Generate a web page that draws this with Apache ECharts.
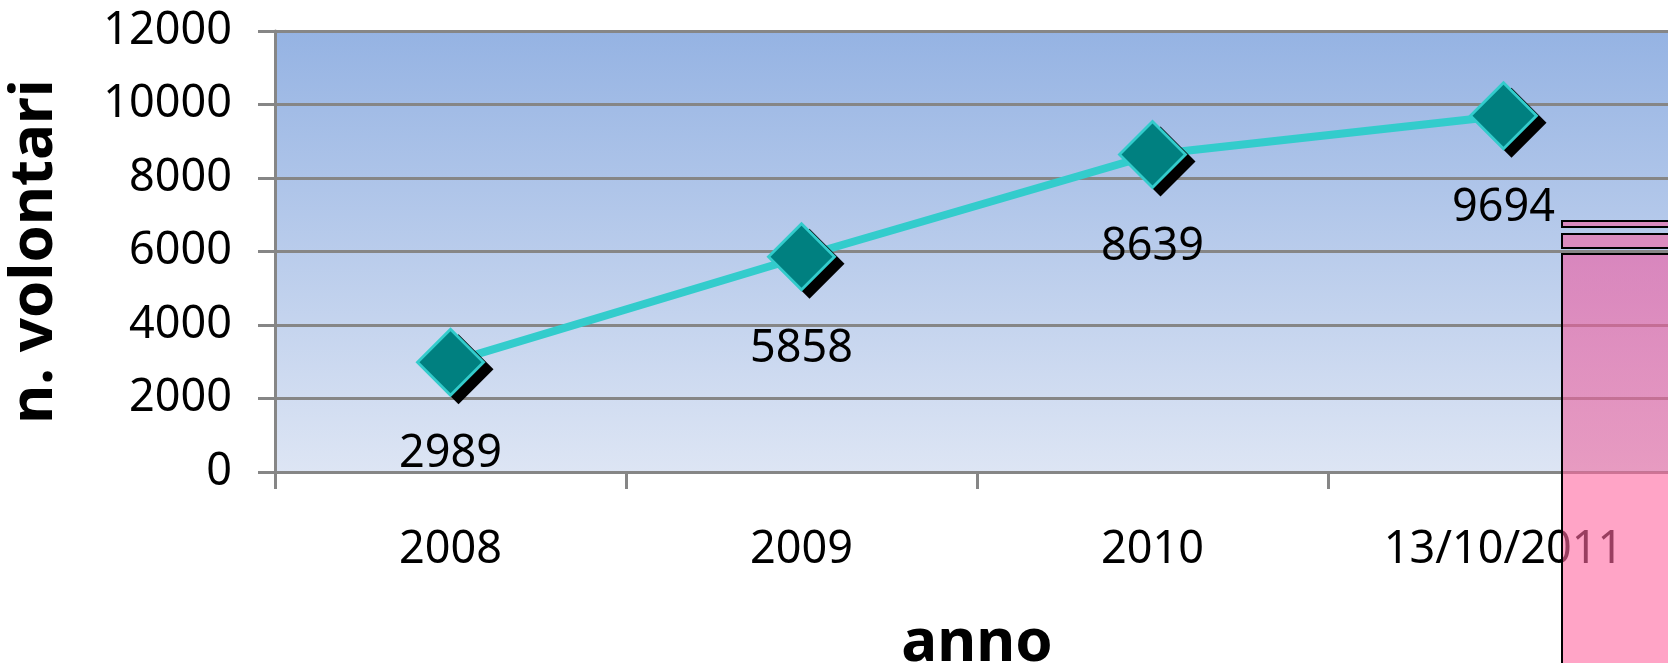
<!DOCTYPE html>
<html>
<head>
<meta charset="utf-8">
<title>volontari</title>
<script src="https://cdn.jsdelivr.net/npm/echarts@6/dist/echarts.min.js"></script>
<style>
    html, body { margin: 0; padding: 0; background: #ffffff; }
    #id-div-chart { width: 1668px; height: 663px; }
</style>
</head>
<body>
<div id="id-div-chart"></div>
<script>
var anni = ['2008', '2009', '2010', '13/10/2011']
var volontari = [2989, 5858, 8639, 9694]
var yTicks = [0, 2000, 4000, 6000, 8000, 10000, 12000]

var font = '"Noto Sans", "DejaVu Sans", sans-serif'
var grigio = '#868686'

var e = (selector) => document.querySelector(selector)

// il rettangolo rosa sul bordo destro (non fa parte dei dati), sopra al grafico e semitrasparente
var rosa = function() {
    var x = 1562
    var w = 200
    var bordo = '#000000'
    var alto = new echarts.graphic.LinearGradient(0, 0, 0, 1, [
        { offset: 0, color: 'rgba(237, 88, 159, 0.6)' },
        { offset: 1, color: 'rgba(238, 105, 159, 0.6)' },
    ])
    return [
        { type: 'rect', z: 10, shape: { x: x, y: 221, width: w, height: 6 },
          style: { fill: 'rgba(243, 97, 160, 0.6)', stroke: bordo, lineWidth: 2 } },
        { type: 'rect', z: 10, shape: { x: x, y: 234, width: w, height: 14 },
          style: { fill: 'rgba(243, 97, 160, 0.6)', stroke: bordo, lineWidth: 2 } },
        { type: 'rect', z: 10, shape: { x: x, y: 254, width: w, height: 218 },
          style: { fill: alto, stroke: null } },
        { type: 'rect', z: 10, shape: { x: x, y: 472, width: w, height: 220 },
          style: { fill: 'rgba(255, 103, 160, 0.6)', stroke: null } },
        { type: 'rect', z: 10, shape: { x: x, y: 254, width: w, height: 440 },
          style: { fill: null, stroke: bordo, lineWidth: 2 } },
    ]
}

var option = function() {
    return {
        animation: false,
        textStyle: { fontFamily: font },
        grid: {
            left: 275,
            top: 31,
            bottom: 191,
            right: -11,
            outerBoundsMode: 'none',
            show: true,
            z: 0,
            borderWidth: 0,
            backgroundColor: new echarts.graphic.LinearGradient(0, 0, 0, 1, [
                { offset: 0, color: '#95B3E3' },
                { offset: 1, color: '#DDE5F4' },
            ]),
        },
        graphic: {
            elements: rosa(),
        },
        xAxis: {
            type: 'category',
            data: anni,
            z: 2,
            boundaryGap: true,
            name: 'anno',
            nameLocation: 'middle',
            nameGap: 142,
            nameTextStyle: { fontSize: 60, fontWeight: 'bold', color: '#000000', fontFamily: font },
            axisLine: { lineStyle: { color: grigio, width: 3 } },
            axisTick: { show: true, length: 17, lineStyle: { color: grigio, width: 3 } },
            axisLabel: { fontSize: 45, color: '#000000', margin: 56, fontFamily: font },
            splitLine: { show: false },
        },
        yAxis: {
            type: 'value',
            z: 2,
            min: yTicks[0],
            max: yTicks[yTicks.length - 1],
            interval: yTicks[1] - yTicks[0],
            name: 'n. volontari',
            nameLocation: 'middle',
            nameGap: 210,
            nameTextStyle: { fontSize: 60, fontWeight: 'bold', color: '#000000', fontFamily: font },
            axisLine: { show: true, lineStyle: { color: grigio, width: 3 } },
            axisTick: { show: true, length: 17, lineStyle: { color: grigio, width: 3 } },
            axisLabel: {
                fontSize: 45,
                color: '#000000',
                margin: 43,
                fontFamily: font,
                formatter: (v) => String(v),
            },
            splitLine: { show: true, lineStyle: { color: grigio, width: 3 } },
        },
        series: [
            {
                // linea, contorno azzurro dei rombi e ombra
                type: 'line',
                z: 3,
                data: volontari,
                lineStyle: { color: '#33CCCC', width: 8 },
                symbol: 'diamond',
                symbolSize: 70,
                itemStyle: {
                    color: '#33CCCC',
                    shadowColor: '#000000',
                    shadowBlur: 0,
                    shadowOffsetX: 8,
                    shadowOffsetY: 7,
                },
                label: {
                    show: true,
                    position: 'bottom',
                    distance: 35,
                    fontSize: 45,
                    color: '#000000',
                    fontFamily: font,
                },
            },
            {
                // riempimento verde acqua dei rombi
                type: 'line',
                z: 4,
                data: volontari,
                lineStyle: { width: 0, opacity: 0 },
                symbol: 'diamond',
                symbolSize: 62,
                itemStyle: { color: '#008080' },
                label: { show: false },
            },
        ],
    }
}

var __main = function() {
    var chart = echarts.init(e('#id-div-chart'))
    chart.setOption(option())
}

__main()
</script>
</body>
</html>
